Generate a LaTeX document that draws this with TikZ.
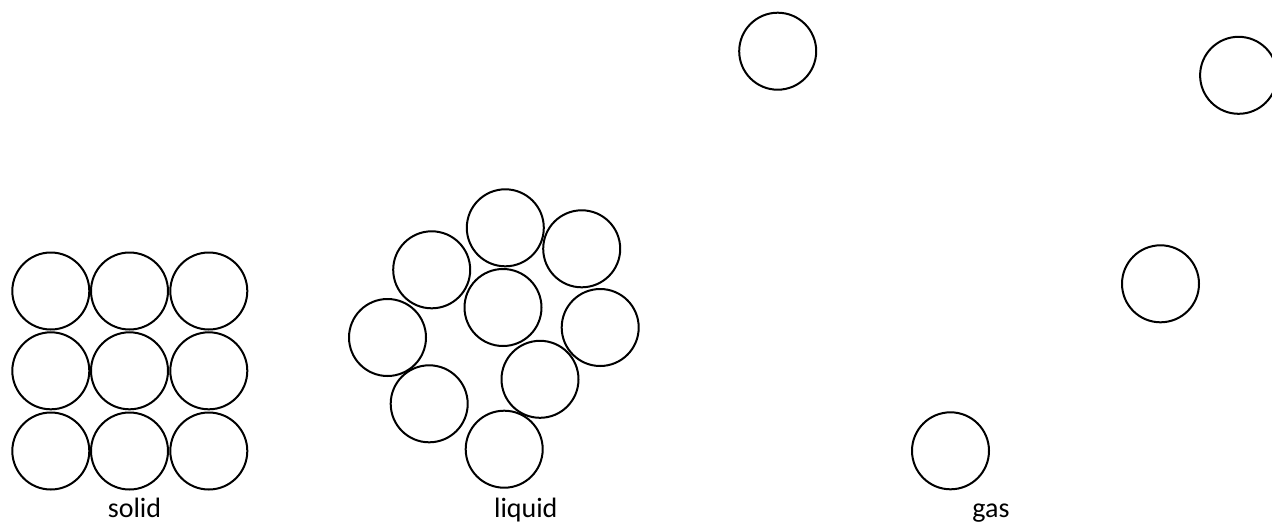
\documentclass[tikz,border=0pt]{standalone}
\usepackage{fontspec}
\setmainfont{Carlito}
\begin{document}
\begin{tikzpicture}[x=1pt,y=-1pt,
  particle/.style={draw=black,line width=2pt,circle,minimum size=77pt,inner sep=0pt},
  label/.style={font=\fontsize{28}{32}\selectfont,anchor=base,inner sep=0pt}]
\useasboundingbox[fill=white] (0,0) rectangle (1272,523);
% solid
\node[particle] (s11) at (50.8,291) {};
\node[particle] (s12) at (129.5,291) {};
\node[particle] (s13) at (208.8,291) {};
\node[particle] (s21) at (50.8,370.8) {};
\node[particle] (s22) at (129.5,370.8) {};
\node[particle] (s23) at (208.8,370.8) {};
\node[particle] (s31) at (50.8,451) {};
\node[particle] (s32) at (129.5,451) {};
\node[particle] (s33) at (208.8,451) {};
\node[label] (solid) at (134.5,517.3) {solid};
% liquid
\node[particle] (l1) at (505.3,227.8) {};
\node[particle] (l2) at (581.7,248.8) {};
\node[particle] (l3) at (431.7,269.8) {};
\node[particle] (l4) at (503,307.5) {};
\node[particle] (l5) at (387.5,337.5) {};
\node[particle] (l6) at (600.2,327.5) {};
\node[particle] (l7) at (540,379.3) {};
\node[particle] (l8) at (429.2,403.8) {};
\node[particle] (l9) at (504.2,449.2) {};
\node[label] (liquid) at (525.8,517) {liquid};
% gas
\node[particle] (g1) at (777.7,51.2) {};
\node[particle] (g2) at (1238.6,75.3) {};
\node[particle] (g3) at (1160.5,283.8) {};
\node[particle] (g4) at (950.5,450.8) {};
\node[label] (gas) at (991,517) {gas};
\end{tikzpicture}
\end{document}
